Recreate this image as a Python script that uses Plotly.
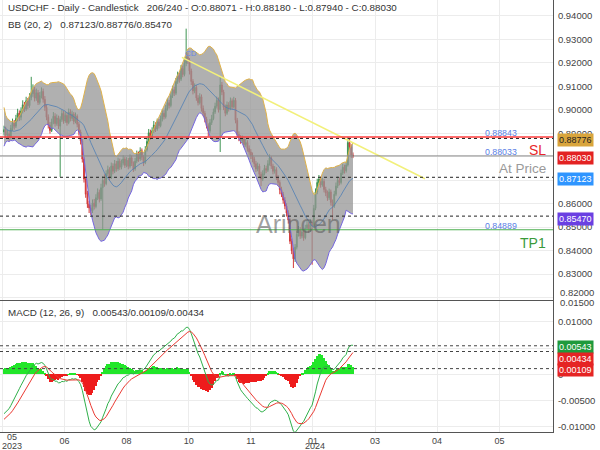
import plotly.graph_objects as go
import pandas as pd

# ---------------- data ----------------
WARMUP_CLOSE = [
    0.9150, 0.9172, 0.9205, 0.9238, 0.9250, 0.9231, 0.9262, 0.9245, 0.9228, 0.9255,
    0.9230, 0.9248, 0.9275, 0.9300, 0.9322, 0.9310, 0.9338, 0.9360, 0.9385, 0.9400,
    0.9392, 0.9370, 0.9355, 0.9380, 0.9395, 0.9360, 0.9330, 0.9300, 0.9285, 0.9310,
    0.9330, 0.9315, 0.9300, 0.9290, 0.9305, 0.9285, 0.9295, 0.9280, 0.9270, 0.9285,
    0.9265, 0.9250, 0.9230, 0.9060, 0.8990, 0.8950, 0.8965, 0.8930, 0.8955, 0.8940,
    0.8915, 0.8935, 0.8905, 0.8890, 0.8912, 0.8895, 0.8880, 0.8905, 0.8920, 0.8898,
    0.8885, 0.8900,
]

CLOSE = [
    0.8915, 0.8892, 0.8898, 0.8882, 0.8921, 0.8943, 0.8930, 0.8962, 0.8985, 0.8968,
    0.8995, 0.9021, 0.9003, 0.9038, 0.9017, 0.9052, 0.9068, 0.9085, 0.9049, 0.9072,
    0.9031, 0.9060, 0.9078, 0.9044, 0.9010, 0.8968, 0.8935, 0.8912, 0.8948, 0.8972,
    0.8941, 0.8965, 0.8930, 0.8958, 0.8984, 0.8952, 0.8976, 0.8945, 0.8990, 0.8963,
    0.8981, 0.8950, 0.8972, 0.8938, 0.8905, 0.8868, 0.8790, 0.8705, 0.8640, 0.8598,
    0.8582, 0.8570, 0.8603, 0.8588, 0.8625, 0.8648, 0.8620, 0.8668, 0.8700, 0.8685,
    0.8728, 0.8745, 0.8712, 0.8760, 0.8738, 0.8770, 0.8748, 0.8781, 0.8755, 0.8772,
    0.8790, 0.8763, 0.8785, 0.8759, 0.8795, 0.8772, 0.8748, 0.8781, 0.8810, 0.8790,
    0.8825, 0.8798, 0.8775, 0.8830, 0.8865, 0.8902, 0.8885, 0.8910, 0.8935, 0.8918,
    0.8948, 0.8932, 0.8960, 0.8985, 0.8970, 0.9005, 0.9030, 0.9018, 0.9060, 0.9085,
    0.9070, 0.9120, 0.9145, 0.9130, 0.9175, 0.9150, 0.9198, 0.9225, 0.9210, 0.9165,
    0.9120, 0.9080, 0.9095, 0.9050, 0.9030, 0.9055, 0.9005, 0.8985, 0.8960, 0.8932,
    0.8910, 0.8945, 0.8962, 0.8990, 0.9015, 0.9040, 0.9000, 0.9105, 0.9075, 0.9010,
    0.8985, 0.9020, 0.9005, 0.9038, 0.9012, 0.9040, 0.8955, 0.8895, 0.8880, 0.8868,
    0.8875, 0.8852, 0.8860, 0.8835, 0.8820, 0.8805, 0.8790, 0.8770, 0.8748, 0.8760,
    0.8725, 0.8705, 0.8728, 0.8750, 0.8742, 0.8770, 0.8795, 0.8760, 0.8738, 0.8745,
    0.8712, 0.8690, 0.8660, 0.8640, 0.8615, 0.8590, 0.8560, 0.8530, 0.8440, 0.8400,
    0.8365, 0.8415, 0.8470, 0.8490, 0.8462, 0.8480, 0.8455, 0.8495, 0.8510, 0.8488,
    0.8520, 0.8505, 0.8580, 0.8650, 0.8690, 0.8705, 0.8680, 0.8695, 0.8660, 0.8645,
    0.8625, 0.8650, 0.8605, 0.8590, 0.8640, 0.8675, 0.8700, 0.8690, 0.8730, 0.8755,
    0.8740, 0.8765, 0.8860, 0.8842, 0.8807, 0.8803,
]

OPEN = [
    0.8905, 0.8915, 0.8892, 0.8898, 0.8882, 0.8921, 0.8943, 0.8930, 0.8962, 0.8985,
    0.8968, 0.8995, 0.9021, 0.9003, 0.9038, 0.9017, 0.9052, 0.9068, 0.9085, 0.9049,
    0.9072, 0.9031, 0.9060, 0.9078, 0.9044, 0.9010, 0.8968, 0.8935, 0.8912, 0.8948,
    0.8972, 0.8941, 0.8965, 0.8930, 0.8958, 0.8984, 0.8952, 0.8976, 0.8945, 0.8990,
    0.8963, 0.8981, 0.8950, 0.8972, 0.8938, 0.8905, 0.8868, 0.8790, 0.8705, 0.8640,
    0.8598, 0.8582, 0.8570, 0.8603, 0.8588, 0.8625, 0.8648, 0.8620, 0.8668, 0.8700,
    0.8685, 0.8728, 0.8745, 0.8712, 0.8760, 0.8738, 0.8770, 0.8748, 0.8781, 0.8755,
    0.8772, 0.8790, 0.8763, 0.8785, 0.8759, 0.8795, 0.8772, 0.8748, 0.8781, 0.8810,
    0.8790, 0.8825, 0.8798, 0.8775, 0.8830, 0.8865, 0.8902, 0.8885, 0.8910, 0.8935,
    0.8918, 0.8948, 0.8932, 0.8960, 0.8985, 0.8970, 0.9005, 0.9030, 0.9018, 0.9060,
    0.9085, 0.9070, 0.9120, 0.9145, 0.9130, 0.9175, 0.9150, 0.9198, 0.9225, 0.9210,
    0.9165, 0.9120, 0.9080, 0.9095, 0.9050, 0.9030, 0.9055, 0.9005, 0.8985, 0.8960,
    0.8932, 0.8910, 0.8945, 0.8962, 0.8990, 0.9015, 0.9040, 0.9000, 0.9105, 0.9075,
    0.9010, 0.8985, 0.9020, 0.9005, 0.9038, 0.9012, 0.9040, 0.8955, 0.8895, 0.8880,
    0.8868, 0.8875, 0.8852, 0.8860, 0.8835, 0.8820, 0.8805, 0.8790, 0.8770, 0.8748,
    0.8760, 0.8725, 0.8705, 0.8728, 0.8750, 0.8742, 0.8770, 0.8795, 0.8760, 0.8738,
    0.8745, 0.8712, 0.8690, 0.8660, 0.8640, 0.8615, 0.8590, 0.8560, 0.8530, 0.8440,
    0.8400, 0.8365, 0.8415, 0.8470, 0.8490, 0.8462, 0.8480, 0.8455, 0.8495, 0.8510,
    0.8488, 0.8520, 0.8505, 0.8580, 0.8650, 0.8690, 0.8705, 0.8680, 0.8695, 0.8660,
    0.8645, 0.8625, 0.8650, 0.8605, 0.8590, 0.8640, 0.8675, 0.8700, 0.8690, 0.8730,
    0.8755, 0.8740, 0.8765, 0.8860, 0.8842, 0.88071,
]

HIGH = [
    0.8932, 0.8928, 0.8915, 0.8910, 0.8935, 0.8962, 0.8956, 0.8978, 0.9004, 0.8997,
    0.9010, 0.9040, 0.9033, 0.9055, 0.9050, 0.9070, 0.9140, 0.9108, 0.9098, 0.9090,
    0.9084, 0.9075, 0.9095, 0.9090, 0.9058, 0.9022, 0.8980, 0.8948, 0.8962, 0.8990,
    0.8985, 0.8980, 0.8975, 0.8972, 0.9000, 0.8995, 0.8992, 0.8988, 0.9005, 0.9002,
    0.8996, 0.8990, 0.8988, 0.8980, 0.8948, 0.8915, 0.8875, 0.8798, 0.8715, 0.8655,
    0.8612, 0.8595, 0.8618, 0.8620, 0.8640, 0.8665, 0.8660, 0.8685, 0.8718, 0.8725,
    0.8742, 0.8762, 0.8755, 0.8775, 0.8772, 0.8786, 0.8782, 0.8796, 0.8792, 0.8788,
    0.8806, 0.8800, 0.8798, 0.8795, 0.8810, 0.8805, 0.8780, 0.8795, 0.8826, 0.8822,
    0.8840, 0.8835, 0.8806, 0.8845, 0.8880, 0.8918, 0.8915, 0.8925, 0.8952, 0.8946,
    0.8962, 0.8960, 0.8975, 0.9002, 0.8998, 0.9020, 0.9048, 0.9042, 0.9075, 0.9102,
    0.9098, 0.9135, 0.9162, 0.9158, 0.9190, 0.9188, 0.9215, 0.9345, 0.9244, 0.9220,
    0.9175, 0.9130, 0.9112, 0.9105, 0.9062, 0.9070, 0.9065, 0.9018, 0.8995, 0.8970,
    0.8942, 0.8960, 0.8978, 0.9005, 0.9030, 0.9056, 0.9052, 0.9140, 0.9118, 0.9085,
    0.9022, 0.9035, 0.9032, 0.9052, 0.9048, 0.9055, 0.9050, 0.8965, 0.8908, 0.8892,
    0.8890, 0.8885, 0.8876, 0.8870, 0.8848, 0.8832, 0.8818, 0.8800, 0.8782, 0.8775,
    0.8770, 0.8736, 0.8742, 0.8765, 0.8762, 0.8785, 0.8810, 0.8802, 0.8770, 0.8760,
    0.8755, 0.8722, 0.8700, 0.8672, 0.8650, 0.8628, 0.8602, 0.8572, 0.8538, 0.8452,
    0.8412, 0.8428, 0.8485, 0.8505, 0.8500, 0.8495, 0.8490, 0.8510, 0.8528, 0.8522,
    0.8535, 0.8532, 0.8595, 0.8665, 0.8706, 0.8722, 0.8715, 0.8710, 0.8705, 0.8672,
    0.8656, 0.8664, 0.8660, 0.8618, 0.8655, 0.8690, 0.8716, 0.8712, 0.8745, 0.8770,
    0.8766, 0.8780, 0.8884, 0.8880, 0.8852, 0.8818,
]

LOW = [
    0.8890, 0.8878, 0.8880, 0.8866, 0.8874, 0.8910, 0.8915, 0.8922, 0.8950, 0.8952,
    0.8955, 0.8984, 0.8990, 0.8995, 0.9002, 0.9008, 0.9040, 0.9055, 0.9035, 0.9038,
    0.9020, 0.9022, 0.9048, 0.9030, 0.8995, 0.8955, 0.8920, 0.8898, 0.8905, 0.8938,
    0.8928, 0.8932, 0.8918, 0.8714, 0.8948, 0.8940, 0.8944, 0.8932, 0.8938, 0.8950,
    0.8952, 0.8938, 0.8942, 0.8925, 0.8890, 0.8852, 0.8775, 0.8690, 0.8625, 0.8582,
    0.8560, 0.8552, 0.8560, 0.8575, 0.8580, 0.8615, 0.8605, 0.8612, 0.8490, 0.8672,
    0.8678, 0.8718, 0.8700, 0.8705, 0.8725, 0.8730, 0.8736, 0.8740, 0.8744, 0.8746,
    0.8763, 0.8752, 0.8755, 0.8746, 0.8750, 0.8760, 0.8735, 0.8740, 0.8772, 0.8778,
    0.8782, 0.8785, 0.8760, 0.8768, 0.8822, 0.8855, 0.8872, 0.8876, 0.8900, 0.8905,
    0.8910, 0.8920, 0.8925, 0.8950, 0.8958, 0.8962, 0.8996, 0.9005, 0.9010, 0.9050,
    0.9058, 0.9062, 0.9110, 0.9115, 0.9122, 0.9138, 0.9142, 0.9185, 0.9195, 0.9150,
    0.9105, 0.9065, 0.9070, 0.9038, 0.9018, 0.9022, 0.8992, 0.8972, 0.8946, 0.8920,
    0.8886, 0.8902, 0.8935, 0.8955, 0.8982, 0.9005, 0.8988, 0.8820, 0.9062, 0.8998,
    0.8972, 0.8978, 0.8992, 0.8998, 0.9000, 0.9005, 0.8942, 0.8882, 0.8866, 0.8855,
    0.8858, 0.8840, 0.8842, 0.8822, 0.8808, 0.8790, 0.8776, 0.8755, 0.8735, 0.8738,
    0.8712, 0.8675, 0.8696, 0.8720, 0.8730, 0.8735, 0.8762, 0.8748, 0.8725, 0.8728,
    0.8700, 0.8676, 0.8640, 0.8628, 0.8600, 0.8576, 0.8545, 0.8515, 0.8428, 0.8385,
    0.8326, 0.8352, 0.8405, 0.8460, 0.8450, 0.8452, 0.8442, 0.8448, 0.8485, 0.8475,
    0.8480, 0.8340, 0.8498, 0.8572, 0.8640, 0.8680, 0.8668, 0.8672, 0.8648, 0.8632,
    0.8612, 0.8616, 0.8592, 0.8530, 0.8582, 0.8632, 0.8666, 0.8678, 0.8682, 0.8722,
    0.8728, 0.8732, 0.8758, 0.8830, 0.8795, 0.8794,
]

SL_LEVEL = 0.88843
AT_PRICE_LEVEL = 0.88033
TP1_LEVEL = 0.84889
BB_LABELS = [0.88776, 0.87123, 0.85470]          # upper / middle / lower (last)
MACD_LABELS = [0.00543, 0.00434, 0.00109]        # macd / signal / histogram (last)
TREND_X = [104.5, 247.3]
TREND_Y = [0.9223, 0.8706]
TICK_POS = [-0.9, 35.6, 72.0, 108.5, 145.0, 181.5, 218.0, 254.4, 291.0]
TICK_TXT = ["05", "06", "08", "10", "11", "01", "03", "04", "05"]
YEAR_TXT = {0: "2023", 5: "2024"}
PRICE_TICKS = [0.82, 0.83, 0.84, 0.85, 0.86, 0.87, 0.88, 0.89, 0.90, 0.91, 0.92, 0.93, 0.94]
PRICE_TICK_TXT = ["", "0.83000", "0.84000", "0.85000", "0.86000", "", "", "0.89000",
                  "0.90000", "0.91000", "0.92000", "0.93000", "0.94000"]
MACD_TICKS = [-0.01, -0.005, 0.0, 0.005, 0.01]
MACD_TICK_TXT = ["-0.01000", "-0.00500", "0", "", "0.01000"]

# ---------------- indicators ----------------
n = len(CLOSE)
full = pd.Series(WARMUP_CLOSE + CLOSE)
mid = full.rolling(20).mean()
sd = full.rolling(20).std(ddof=0)
upper = (mid + 2 * sd).iloc[-n:].tolist()
lower = (mid - 2 * sd).iloc[-n:].tolist()
mid = mid.iloc[-n:].tolist()
ema12 = full.ewm(span=12, adjust=False).mean()
ema26 = full.ewm(span=26, adjust=False).mean()
macd = ema12 - ema26
sig = macd.ewm(span=9, adjust=False).mean()
hist = (macd - sig).iloc[-n:].tolist()
macd = macd.iloc[-n:].tolist()
sig = sig.iloc[-n:].tolist()
X = list(range(n))

FONT = "Liberation Sans, Arial, sans-serif"
PLOT_W = 553.0
PLOT_H = 432.0
fig = go.Figure()

# Bollinger band fill
fig.add_trace(go.Scatter(x=X, y=lower, mode="lines", line=dict(color="#7566e0", width=1),
                         hoverinfo="skip", xaxis="x", yaxis="y"))
fig.add_trace(go.Scatter(x=X, y=upper, mode="lines", line=dict(color="#e0b24a", width=1),
                         fill="tonexty", fillcolor="rgba(150,150,150,0.75)",
                         hoverinfo="skip", xaxis="x", yaxis="y"))
fig.add_trace(go.Scatter(x=X, y=mid, mode="lines", line=dict(color="#4f7fb5", width=0.8),
                         hoverinfo="skip", xaxis="x", yaxis="y"))

fig.add_trace(go.Candlestick(x=X, open=OPEN, high=HIGH, low=LOW, close=CLOSE,
                             increasing=dict(line=dict(color="#3d9452", width=1), fillcolor="#3d9452"),
                             decreasing=dict(line=dict(color="#d23a3a", width=1), fillcolor="#d23a3a"),
                             whiskerwidth=0, xaxis="x", yaxis="y"))

fig.add_trace(go.Scatter(x=TREND_X, y=TREND_Y, mode="lines", line=dict(color="#f2f07a", width=1.5),
                         hoverinfo="skip", xaxis="x", yaxis="y"))

# MACD panel
fig.add_trace(go.Bar(x=X, y=hist, width=1.0,
                     marker=dict(color=["#22e62a" if v >= 0 else "#ee1c1c" for v in hist], line=dict(width=0)),
                     xaxis="x2", yaxis="y2"))
fig.add_trace(go.Scatter(x=X, y=macd, mode="lines", line=dict(color="#2fb04a", width=1),
                         xaxis="x2", yaxis="y2"))
fig.add_trace(go.Scatter(x=X, y=sig, mode="lines", line=dict(color="#ea3a32", width=1),
                         xaxis="x2", yaxis="y2"))

shapes = []
def hline(y, yref, color, dash="solid", width=1):
    shapes.append(dict(type="line", xref="x domain", x0=0, x1=1, yref=yref, y0=y, y1=y,
                       line=dict(color=color, dash=dash, width=width), layer="above"))

hline(SL_LEVEL, "y", "#ff3b3b", width=1.5)
hline(BB_LABELS[0], "y", "#222", dash="dot")
hline(AT_PRICE_LEVEL, "y", "#8a8a8a")
hline(BB_LABELS[1], "y", "#222", dash="dot")
hline(BB_LABELS[2], "y", "#222", dash="dot")
hline(TP1_LEVEL, "y", "#4caf50", width=1.2)
for v in MACD_LABELS:
    shapes.append(dict(type="line", xref="x2 domain", x0=0, x1=1, yref="y2", y0=v, y1=v,
                       line=dict(color="#444", dash="dot", width=1), layer="above"))

ann = []
def txt(text, x, y, size=10, color="#333", xanchor="left", xref="paper", yref="paper",
        yshift=0, bg=None, **kw):
    d = dict(text=text, x=x, y=y, xref=xref, yref=yref, xanchor=xanchor, yanchor="middle",
             showarrow=False, font=dict(size=size, color=color, family=FONT), yshift=yshift)
    if bg:
        d.update(bgcolor=bg, borderpad=1)
    d.update(kw)
    ann.append(d)

def py(pix):  # pixel row (from top) -> paper y
    return (PLOT_H - pix) / PLOT_H

S = "\u00a0"
txt("USDCHF - Daily - Candlestick" + S * 3 + "206/240 - O:0.88071 - H:0.88180 - L:0.87940 - C:0.88030",
    6 / PLOT_W, py(8), size=9.8)
txt("BB (20, 2)" + S * 3 + "0.87123/0.88776/0.85470", 6 / PLOT_W, py(25), size=9.8)
txt("MACD (12, 26, 9)" + S * 3 + "0.00543/0.00109/0.00434", 6 / PLOT_W, py(312), size=9.8)

# level labels
txt("0.88843", 519 / PLOT_W, SL_LEVEL, size=8.8, color="#5b7fe6", xanchor="right", yref="y", yshift=4)
txt("SL", 548 / PLOT_W, SL_LEVEL, size=14, color="#e8262a", xanchor="right", yref="y", yshift=-13)
txt("0.88033", 519 / PLOT_W, AT_PRICE_LEVEL, size=8.8, color="#5b7fe6", xanchor="right", yref="y", yshift=4)
txt("At Price", 548 / PLOT_W, AT_PRICE_LEVEL, size=13.5, color="#9a9a9a", xanchor="right", yref="y", yshift=-13)
txt("0.84889", 519 / PLOT_W, TP1_LEVEL, size=8.8, color="#5b7fe6", xanchor="right", yref="y", yshift=4)
txt("TP1", 548 / PLOT_W, TP1_LEVEL, size=14, color="#3a9a3a", xanchor="right", yref="y", yshift=-13)

# watermark & small marker
txt("Arincen", 298 / PLOT_W, py(224), size=25, color="rgba(95,95,95,0.6)", xanchor="center")
txt("CD", 191 / PLOT_W, py(53), size=8, color="#6a8ae0", xanchor="center")

# right-side value boxes
txt("0.88776", 1.0, BB_LABELS[0], size=9, color="#222", yref="y", yshift=-2, bg="#d9a53c", xshift=4)
txt("0.88030", 1.0, CLOSE[-1], size=9, color="#fff", yref="y", yshift=-2, bg="#e32222", xshift=4)
txt("0.87123", 1.0, BB_LABELS[1], size=9, color="#fff", yref="y", yshift=-2, bg="#2f95ff", xshift=4)
txt("0.85470", 1.0, BB_LABELS[2], size=9, color="#fff", yref="y", yshift=-3, bg="#6a40e2", xshift=4)
txt("0.00543", 1.0, MACD_LABELS[0], size=9, color="#fff", yref="y2", yshift=-1, bg="#1f9a3c", xshift=4)
txt("0.00434", 1.0, MACD_LABELS[1], size=9, color="#fff", yref="y2", yshift=-7, bg="#e52424", xshift=4)
txt("0.00109", 1.0, MACD_LABELS[2], size=9, color="#fff", yref="y2", yshift=-1.5, bg="#e52424", xshift=4)

# axis labels that sit at the panel edges
txt("0.82000", 1.0, py(292), size=9.5, color="#444", xshift=5)
txt("0.01500", 1.0, py(302.5), size=9.5, color="#444", xshift=5)
txt(TICK_TXT[0], 11.5 / PLOT_W, py(437.5), size=9, color="#444", xanchor="center")
for k, yr in YEAR_TXT.items():
    xp = 11.5 if k == 0 else 4 + TICK_POS[k] * 1.7025 + 1.7
    txt(yr, xp / PLOT_W, py(445.5), size=9, color="#444", xanchor="center")

GRID = "#ececec"
fig.update_layout(
    width=600, height=450, margin=dict(l=0, r=47, t=0, b=18, autoexpand=False),
    paper_bgcolor="white", plot_bgcolor="white", showlegend=False,
    font=dict(family=FONT, size=9.5, color="#444"),
    shapes=shapes, annotations=ann,
    xaxis=dict(domain=[0, 1], anchor="y", range=[-2.35, 322.5], tickvals=TICK_POS,
               showticklabels=False, showgrid=True, gridcolor=GRID, zeroline=False, automargin=False,
               showline=True, linecolor="#555", linewidth=1, rangeslider=dict(visible=False)),
    xaxis2=dict(domain=[0, 1], anchor="y2", matches="x", range=[-2.35, 322.5], tickvals=TICK_POS,
                ticktext=[""] + TICK_TXT[1:], showgrid=True, gridcolor=GRID, zeroline=False,
                showline=True, linecolor="#555", linewidth=1, ticks="", automargin=False,
                ticklabelstandoff=0, tickfont=dict(size=9, color="#444")),
    yaxis=dict(domain=[0.3056, 1], range=[0.8190, 0.9467], side="right", tickvals=PRICE_TICKS,
               ticktext=PRICE_TICK_TXT, showgrid=True, gridcolor=GRID, zeroline=False,
               showline=True, linecolor="#555", linewidth=1, ticks="", ticklabelstandoff=2,
               automargin=False, tickfont=dict(size=9.5, color="#444")),
    yaxis2=dict(domain=[0, 0.3032], range=[-0.01095, 0.01393], side="right", tickvals=MACD_TICKS,
                ticktext=MACD_TICK_TXT, showgrid=True, gridcolor=GRID, zeroline=False,
                showline=True, linecolor="#555", linewidth=1, ticks="", ticklabelstandoff=2,
                automargin=False, tickfont=dict(size=9.5, color="#444")),
    bargap=0,
)

fig.write_html("out.html", config={"displayModeBar": False},
               post_script="document.body.style.margin='0px';")
